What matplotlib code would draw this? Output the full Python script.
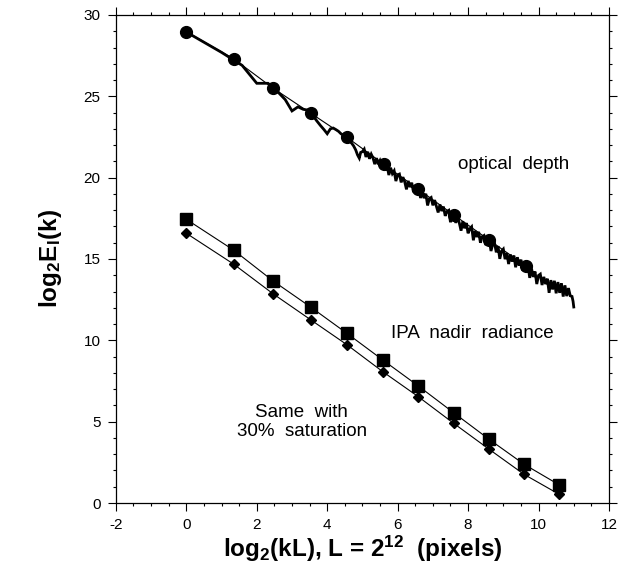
import matplotlib.pyplot as plt
from matplotlib.ticker import MultipleLocator

# ==========================================
# Data
# ==========================================
# optical depth: binned points (circles)
od_bin_x = [0.0, 1.34, 2.47, 3.54, 4.56, 5.60, 6.59, 7.60, 8.60, 9.64]
od_bin_y = [28.97, 27.31, 25.49, 23.95, 22.48, 20.84, 19.28, 17.70, 16.16, 14.57]

# optical depth: raw spectrum, low wavenumbers
od_raw_x_low = [0.0, 1.0, 1.585, 2.0, 2.32, 2.585, 2.807, 3.0, 3.17, 3.32,
                3.46, 3.585, 3.70, 3.81, 3.91, 4.0, 4.09, 4.17, 4.25, 4.32,
                4.39, 4.46, 4.52, 4.585, 4.64, 4.70, 4.75, 4.81, 4.86, 4.91,
                4.95, 5.0]
od_raw_y_low = [28.95, 27.70, 26.90, 25.80, 25.80, 25.30, 24.80, 24.10, 24.35, 24.20,
                24.15, 23.85, 23.50, 23.20, 22.95, 22.70, 23.00, 23.05, 22.95, 22.85,
                22.70, 22.60, 22.50, 22.40, 22.25, 22.10, 21.95, 21.70, 21.40, 21.20,
                21.55, 21.60]

# optical depth: raw spectrum, high wavenumbers (x from 5.05 to 10.90, step 0.05)
od_raw_y_high = [21.75, 21.27, 21.59, 21.16, 21.44, 21.21, 20.83, 21.20, 20.82, 21.05,
                 20.77, 20.89, 20.46, 20.73, 20.16, 20.61, 20.25, 20.42, 19.79, 20.17,
                 20.22, 19.71, 20.03, 19.75, 19.28, 19.80, 19.42, 19.69, 19.11, 19.46,
                 19.16, 19.36, 18.75, 19.12, 18.74, 19.01, 18.29, 18.71, 18.78, 18.30,
                 18.62, 18.24, 17.86, 18.35, 17.95, 18.22, 17.65, 17.92, 17.99, 17.26,
                 17.73, 17.75, 17.22, 17.57, 17.22, 16.74, 17.32, 16.89, 17.21, 16.58,
                 16.86, 16.98, 16.15, 16.73, 16.35, 16.67, 16.00, 16.37, 16.44, 15.86,
                 16.19, 16.21, 15.49, 15.91, 15.99, 15.41, 15.79, 15.01, 15.49, 15.61,
                 14.99, 15.36, 14.69, 15.28, 14.84, 15.21, 14.49, 15.11, 14.59, 14.96,
                 14.29, 14.81, 14.39, 14.61, 13.84, 14.42, 13.90, 14.23, 13.46, 13.99,
                 14.07, 13.40, 13.90, 13.46, 13.79, 12.92, 13.70, 13.13, 13.66, 12.89,
                 13.58, 12.92, 13.51, 12.69, 13.38, 12.72, 13.21, 12.74]
od_raw_x_high = [round(5.05 + 0.05 * i, 2) for i in range(len(od_raw_y_high))]

# spectrum tail
od_raw_x_tail = [10.95, 10.98, 11.0]
od_raw_y_tail = [12.70, 12.40, 12.05]

# IPA nadir radiance (squares) and 30% saturation (diamonds)
rad_x = [0.0, 1.34, 2.47, 3.54, 4.56, 5.58, 6.59, 7.59, 8.60, 9.59, 10.59]
rad_y = [17.44, 15.55, 13.64, 12.03, 10.43, 8.79, 7.19, 5.55, 3.91, 2.38, 1.11]
sat_y = [16.58, 14.69, 12.85, 11.25, 9.73, 8.07, 6.53, 4.90, 3.30, 1.76, 0.53]

# ==========================================
# Style
# ==========================================
plt.rcParams["font.family"] = ["Liberation Sans", "DejaVu Sans"]
plt.rcParams["axes.unicode_minus"] = False
plt.rcParams["mathtext.fontset"] = "custom"
plt.rcParams["mathtext.rm"] = "Liberation Sans:bold"
plt.rcParams["mathtext.bf"] = "Liberation Sans:bold"
plt.rcParams["mathtext.it"] = "Liberation Sans:bold"
plt.rcParams["mathtext.default"] = "bf"

fig = plt.figure(figsize=(6.23, 5.65), dpi=100)
ax = fig.add_axes([0.186, 0.1097, 0.7915, 0.8638])

# ==========================================
# Plot
# ==========================================
raw_x = od_raw_x_low + od_raw_x_high + od_raw_x_tail
raw_y = od_raw_y_low + od_raw_y_high + od_raw_y_tail
ax.plot(raw_x, raw_y, color="black", linewidth=2.0, solid_joinstyle="miter")
ax.plot(od_bin_x, od_bin_y, color="black", linewidth=0.8,
        marker="o", markersize=8.5)

ax.plot(rad_x, rad_y, color="black", linewidth=0.8,
        marker="s", markersize=8.2)
ax.plot(rad_x, sat_y, color="black", linewidth=0.8,
        marker="D", markersize=5.5)

ax.text(7.71, 20.8, "optical  depth", fontsize=13.5, ha="left", va="center")
ax.text(5.81, 10.45, "IPA  nadir  radiance", fontsize=13.5, ha="left", va="center")
ax.text(3.28, 5.0, "Same  with\n30%  saturation", fontsize=13.5, ha="center",
        va="center", linespacing=1.15)

# ==========================================
# Axes
# ==========================================
ax.set_xlim(-2, 12)
ax.set_ylim(0, 30)
ax.xaxis.set_major_locator(MultipleLocator(2))
ax.xaxis.set_minor_locator(MultipleLocator(0.5))
ax.yaxis.set_major_locator(MultipleLocator(5))
ax.yaxis.set_minor_locator(MultipleLocator(1))
ax.tick_params(which="both", direction="out", top=True, right=True,
               labelsize=11, width=0.8)
ax.tick_params(which="major", length=6, pad=5)
ax.tick_params(which="minor", length=2.5)
for s in ax.spines.values():
    s.set_linewidth(0.9)

ax.set_xlabel("log$_2$(kL), L = 2$^{12}$  (pixels)", fontsize=17.5,
              fontweight="bold", labelpad=1)
ax.set_ylabel("log$_2$E$_l$(k)", fontsize=17.5, fontweight="bold", labelpad=14)

fig.savefig("out.png", dpi=100)
